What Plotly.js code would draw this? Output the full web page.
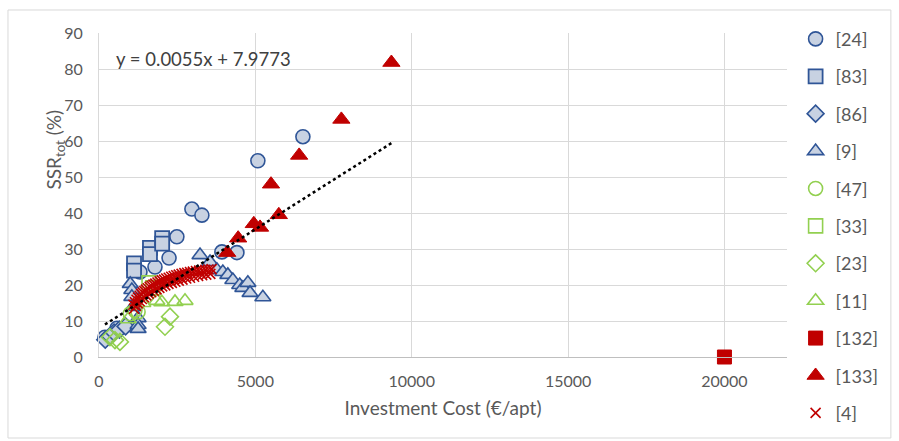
<!DOCTYPE html>
<html>
<head>
<meta charset="utf-8">
<script src="https://cdn.plot.ly/plotly-3.0.1.min.js"></script>
<style>body{margin:0;background:#fff}#chart{width:899px;height:441px}</style>
</head>
<body>
<div id="chart"></div>
<script>
// ---- data ----
const ref24X = [190, 575, 1310, 1790, 2240, 2490, 2970, 3290, 3930, 4410, 5080, 6520];
const ref24Y = [5.5, 8.0, 23.6, 25.0, 27.5, 33.4, 41.1, 39.4, 29.2, 29.0, 54.5, 61.2];

const ref83X = [1120, 1120, 1630, 1630, 2020, 2020];
const ref83Y = [26.0, 24.0, 30.3, 28.6, 33.0, 31.5];

const ref86X = [200, 350, 480, 650, 850];
const ref86Y = [4.8, 5.8, 6.8, 7.6, 8.5];

const ref9X = [1000, 1050, 1050, 1090, 1250, 1250, 1250, 3230, 3550, 3770, 3960, 4120, 4280, 4500, 4600, 4760, 4830, 5240];
const ref9Y = [20.3, 18.6, 16.7, 13.9, 10.8, 8.9, 7.8, 28.3, 26.4, 24.2, 23.6, 22.8, 21.4, 20.0, 19.2, 20.6, 17.8, 16.6];

const ref47X = [1000, 1150, 1250];
const ref47Y = [12.0, 13.0, 12.5];

const ref33X = [1600, 1720];
const ref33Y = [20.6, 19.2];

const ref23X = [350, 510, 670, 2110, 2270];
const ref23Y = [5.5, 4.7, 4.2, 8.4, 11.2];

const ref11X = [930, 1400, 1850, 2010, 2430, 2750];
const ref11Y = [10.5, 15.0, 15.6, 15.2, 15.3, 15.6];

const ref132X = [20000];
const ref132Y = [0];

const ref133X = [4100, 4450, 4950, 5150, 5500, 5750, 6400, 7750, 9350];
const ref133Y = [29.0, 33.0, 37.0, 36.0, 48.0, 39.5, 56.0, 66.0, 81.8];

const ref4X = [1100, 1150, 1200, 1250, 1300, 1350, 1400, 1450, 1500, 1560, 1620, 1680, 1740, 1800, 1870, 1940, 2010, 2080, 2150, 2230, 2310, 2390, 2470, 2550, 2640, 2730, 2820, 2910, 3000, 3100, 3200, 3300, 3400, 3500, 3600,
               1120, 1180, 1240, 1300, 1370, 1440, 1510, 1590, 1670, 1750, 1840, 1930, 2020, 2120, 2220, 2330, 2440, 2550, 2670, 2790, 2910, 3040, 3170, 3300, 3430, 3560];
const ref4Y = [14.5, 15.2, 15.9, 16.5, 17.0, 17.5, 17.9, 18.3, 18.7, 19.1, 19.5, 19.8, 20.1, 20.4, 20.7, 21.0, 21.3, 21.5, 21.8, 22.0, 22.3, 22.5, 22.7, 22.9, 23.1, 23.3, 23.4, 23.6, 23.7, 23.9, 24.0, 24.1, 24.2, 24.3, 24.4,
               13.4, 14.2, 14.9, 15.5, 16.1, 16.6, 17.1, 17.6, 18.0, 18.4, 18.8, 19.2, 19.6, 19.9, 20.3, 20.6, 20.9, 21.2, 21.5, 21.8, 22.0, 22.3, 22.5, 22.7, 22.9, 23.1];

// trendline (y = 0.0055x + 7.9773) spanning the data
const trendSlope = 0.0055, trendIntercept = 7.9773;
const trendX = [190, 9350];
const trendLabel = "y = 0.0055x + 7.9773";

const xTicks = [0, 5000, 10000, 15000, 20000];
const yTicks = [0, 10, 20, 30, 40, 50, 60, 70, 80, 90];

// ---- styles ----
const blue = '#2f5597', blueFill = '#c8d2e2', green = '#92d050', red = '#c00000';
const FONT = 'Lato, "Liberation Sans", sans-serif';

function tr(name, x, y, marker) {
  return {type: 'scatter', mode: 'markers', name: name, x: x, y: y, marker: marker,
          legendgroup: name, cliponaxis: false};
}
const traces = [
  tr('[24]', ref24X, ref24Y, {symbol: 'circle', size: 14, color: blueFill, line: {color: blue, width: 1.6}}),
  tr('[83]', ref83X, ref83Y, {symbol: 'square', size: 14, color: blueFill, line: {color: blue, width: 1.8}}),
  tr('[86]', ref86X, ref86Y, {symbol: 'diamond', size: 13, color: blueFill, line: {color: blue, width: 1.6}}),
  tr('[9]', ref9X, ref9Y, {symbol: 'triangle-up', size: 14, color: blueFill, line: {color: blue, width: 1.6}}),
  tr('[47]', ref47X, ref47Y, {symbol: 'circle', size: 14, color: 'rgba(0,0,0,0)', line: {color: green, width: 1.6}}),
  tr('[33]', ref33X, ref33Y, {symbol: 'square', size: 14, color: 'rgba(0,0,0,0)', line: {color: green, width: 1.6}}),
  tr('[23]', ref23X, ref23Y, {symbol: 'diamond', size: 13, color: 'rgba(0,0,0,0)', line: {color: green, width: 1.6}}),
  tr('[11]', ref11X, ref11Y, {symbol: 'triangle-up', size: 14, color: 'rgba(0,0,0,0)', line: {color: green, width: 1.6}}),
  tr('[132]', ref132X, ref132Y, {symbol: 'square', size: 14, color: red, line: {color: red, width: 1}}),
  tr('[133]', ref133X, ref133Y, {symbol: 'triangle-up', size: 15, color: red, line: {color: red, width: 1}}),
  tr('[4]', ref4X, ref4Y, {symbol: 'x-thin', size: 10, color: red, line: {color: red, width: 1.6}}),
  {type: 'scatter', mode: 'lines', x: trendX, y: trendX.map(v => trendSlope * v + trendIntercept),
   line: {color: '#000', width: 2.5, dash: 'dot'}, showlegend: false, hoverinfo: 'skip'}
];

const layout = {
  width: 899, height: 441,
  margin: {l: 99, r: 112, t: 33, b: 84, autoexpand: false},
  paper_bgcolor: '#fff', plot_bgcolor: '#fff',
  font: {family: FONT, color: '#595959', size: 16},
  showlegend: true,
  legend: {x: 1.0125, xanchor: 'left', y: 1.038, yanchor: 'top', font: {size: 18, color: '#595959'},
           tracegroupgap: 11, itemwidth: 30, bgcolor: 'rgba(0,0,0,0)', maxheight: 441},
  xaxis: {range: [0, 22000], tickvals: xTicks, ticktext: xTicks.map(String), showgrid: true,
          gridcolor: '#d9d9d9', gridwidth: 1, zeroline: false, showline: true, linecolor: '#bfbfbf',
          ticks: '', ticklabelstandoff: 10, tickfont: {size: 16, color: '#595959'}, automargin: false,
          title: {text: 'Investment Cost (€/apt)', font: {size: 19, color: '#595959'}, standoff: 12}},
  yaxis: {range: [0, 90], tickvals: yTicks, ticktext: yTicks.map(String), showgrid: true,
          gridcolor: '#d9d9d9', gridwidth: 1, zeroline: false, showline: true, linecolor: '#d9d9d9',
          ticks: '', ticklabelstandoff: 12, tickfont: {size: 16, color: '#595959'}, automargin: false},
  annotations: [
    {xref: 'paper', yref: 'paper', x: 0.022, y: 0.92, xanchor: 'left', yanchor: 'middle',
     text: trendLabel, showarrow: false, font: {size: 18.5, color: '#404040'}},
    {xref: 'paper', yref: 'paper', x: -0.064, y: 0.64, xanchor: 'center', yanchor: 'middle', textangle: -90,
     text: 'SSR<sub>tot</sub> (%)', showarrow: false, font: {size: 19, color: '#595959'}}
  ],
  shapes: [{type: 'rect', xref: 'paper', yref: 'paper', x0: -0.1323, x1: 1.151, y0: -0.25, y1: 1.071,
            line: {color: '#d9d9d9', width: 1}, fillcolor: 'rgba(0,0,0,0)', layer: 'below'}]
};

Plotly.newPlot('chart', traces, layout, {staticPlot: true, displayModeBar: false});
</script>
</body>
</html>
